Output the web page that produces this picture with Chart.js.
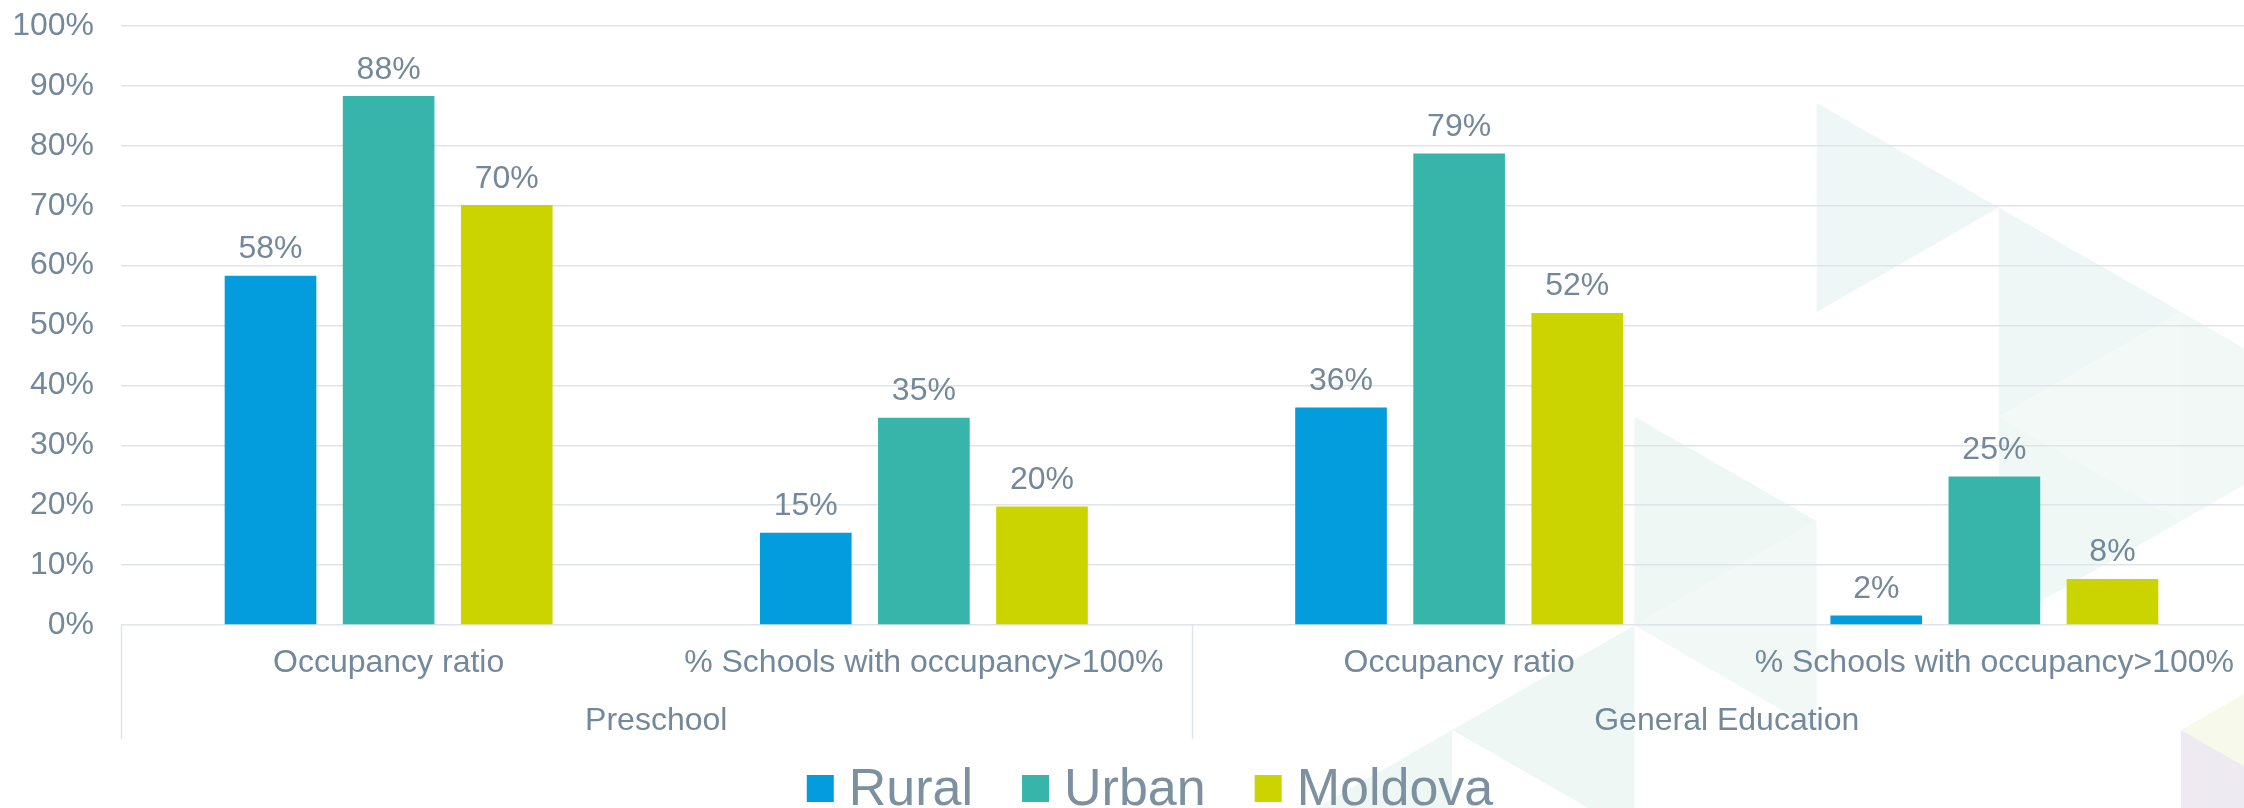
<!DOCTYPE html>
<html>
<head>
<meta charset="utf-8">
<script src="https://cdn.jsdelivr.net/npm/chart.js@4.4.1/dist/chart.umd.min.js"></script>
<style>
html,body{margin:0;padding:0;background:#ffffff;overflow:hidden;width:2244px;height:808px;}
#wrap{position:relative;width:2300px;height:808px;}
canvas{display:block;}
</style>
</head>
<body>
<div id="wrap"><canvas id="c" width="2300" height="808"></canvas></div>
<script>
// ---- data ----
const categories = ['Occupancy ratio', '% Schools with occupancy>100%', 'Occupancy ratio', '% Schools with occupancy>100%'];
const groupLabels = ['Preschool', 'General Education'];
const seriesNames = ['Rural', 'Urban', 'Moldova'];
const rural = [58.3, 15.4, 36.3, 1.6];
const urban = [88.3, 34.6, 78.7, 24.8];
const moldova = [70.1, 19.8, 52.1, 7.7];
const yTickValues = [0, 10, 20, 30, 40, 50, 60, 70, 80, 90, 100];

// ---- styles ----
const colors = ['#039CDC', '#38B5AA', '#CCD400'];
const textColor = '#73889A';
const gridColor = '#DFE4E8';
const FONT = '"Liberation Sans", Arial, Helvetica, sans-serif';

// decorative triangle mosaic in the background (not data)
const decoTriangles = [
  ['R', 0, 0, '#EEF7F5'],
  ['R', 1, 0, '#EEF7F5'],
  ['L', 1, 0, '#F3F9F7'],
  ['R', 1, 1, '#F0F8F6'],
  ['R', -1, 2, '#EFF7F5'],
  ['L', -1, 2, '#F1F8F6'],
  ['L', -2, 3, '#EFF7F5'],
  ['L', -3, 4, '#EFF7F5'],
  ['R', 2, 0, '#F1F8F6'],
  ['L', 2, 1, '#F7F9EA'],
  ['R', 2, 2, '#EEEAF2']
];

const backgroundPlugin = {
  id: 'deco',
  beforeDraw(chart) {
    const ctx = chart.ctx;
    const colX = k => 1816.6 + 182.2 * k;
    const edgeY = (k, m) => 103 + 104.5 * k + 209 * m;
    ctx.save();
    ctx.fillStyle = '#ffffff';
    ctx.fillRect(0, 0, chart.width, chart.height);
    decoTriangles.forEach(([dir, k, m, col]) => {
      let pts;
      if (dir === 'R') {
        const y0 = edgeY(k, m);
        pts = [[colX(k), y0], [colX(k), y0 + 209], [colX(k + 1), y0 + 104.5]];
      } else {
        const y0 = edgeY(k + 1, m);
        pts = [[colX(k + 1), y0], [colX(k + 1), y0 + 209], [colX(k), y0 + 104.5]];
      }
      ctx.fillStyle = col;
      ctx.beginPath();
      ctx.moveTo(pts[0][0], pts[0][1]);
      ctx.lineTo(pts[1][0], pts[1][1]);
      ctx.lineTo(pts[2][0], pts[2][1]);
      ctx.closePath();
      ctx.fill();
    });
    ctx.restore();
  }
};

const dataLabelPlugin = {
  id: 'dataLabels',
  afterDatasetsDraw(chart) {
    const ctx = chart.ctx;
    ctx.save();
    ctx.font = '32px ' + FONT;
    ctx.fillStyle = textColor;
    ctx.textAlign = 'center';
    ctx.textBaseline = 'alphabetic';
    chart.data.datasets.forEach((ds, di) => {
      const meta = chart.getDatasetMeta(di);
      meta.data.forEach((el, i) => {
        ctx.fillText(Math.round(ds.data[i]) + '%', el.x, el.y - 17.5);
      });
    });
    ctx.restore();
  }
};

const separatorPlugin = {
  id: 'separators',
  afterDraw(chart) {
    const gs = chart.scales.x2;
    const ctx = chart.ctx;
    const n = groupLabels.length;
    const step = (gs.right - gs.left) / n;
    ctx.save();
    ctx.strokeStyle = gridColor;
    ctx.lineWidth = 1.5;
    for (let i = 0; i <= n; i++) {
      const x = Math.round(gs.left + step * i) + 0.5;
      ctx.beginPath();
      ctx.moveTo(x, chart.chartArea.bottom);
      ctx.lineTo(x, gs.bottom);
      ctx.stroke();
    }
    ctx.restore();
  }
};

const legendPlugin = {
  id: 'customLegend',
  afterDraw(chart) {
    const ctx = chart.ctx;
    ctx.save();
    ctx.font = '52px ' + FONT;
    const box = 27, gapText = 15, gapItem = 49;
    const widths = seriesNames.map(s => ctx.measureText(s).width);
    let total = 0;
    widths.forEach((w, i) => { total += box + gapText + w + (i < widths.length - 1 ? gapItem : 0); });
    let x = chart.width / 2 - total / 2;
    const baseY = 805;
    const boxTop = 775;
    ctx.textBaseline = 'alphabetic';
    ctx.textAlign = 'left';
    chart.data.datasets.forEach((ds, i) => {
      ctx.fillStyle = ds.backgroundColor;
      ctx.fillRect(x, boxTop, box, box);
      ctx.fillStyle = '#7C909F';
      ctx.fillText(ds.label, x + box + gapText, baseY);
      x += box + gapText + widths[i] + gapItem;
    });
    ctx.restore();
  }
};

new Chart(document.getElementById('c'), {
  type: 'bar',
  data: {
    labels: categories,
    datasets: [
      { label: seriesNames[0], data: rural, backgroundColor: colors[0] },
      { label: seriesNames[1], data: urban, backgroundColor: colors[1] },
      { label: seriesNames[2], data: moldova, backgroundColor: colors[2] }
    ]
  },
  options: {
    responsive: false,
    animation: false,
    devicePixelRatio: 1,
    layout: { padding: { top: 26, right: 38, bottom: 69, left: 0 } },
    datasets: { bar: { categoryPercentage: 0.662, barPercentage: 0.776 } },
    plugins: {
      legend: { display: false },
      tooltip: { enabled: false }
    },
    scales: {
      y: {
        min: 0, max: 100,
        afterBuildTicks(s) { s.ticks = yTickValues.map(v => ({ value: v })); },
        afterFit(s) { s.width = 121; s.paddingTop = 0; s.paddingBottom = 0; },
        ticks: {
          callback: v => v + '%',
          font: { family: FONT, size: 32 },
          color: textColor,
          padding: 27
        },
        grid: { color: gridColor, lineWidth: 1.5, drawTicks: false },
        border: { display: false }
      },
      x: {
        weight: 0,
        afterFit(s) { s.height = 58; },
        ticks: {
          font: { family: FONT, size: 32 },
          color: textColor,
          padding: 19,
          maxRotation: 0,
          autoSkip: false
        },
        grid: { display: false, drawTicks: false },
        border: { display: false }
      },
      x2: {
        type: 'category',
        position: 'bottom',
        labels: groupLabels,
        offset: true,
        weight: 1,
        afterFit(s) { s.height = 56; },
        ticks: {
          font: { family: FONT, size: 32 },
          color: textColor,
          padding: 19,
          maxRotation: 0,
          autoSkip: false
        },
        grid: { display: false, drawTicks: false },
        border: { display: false }
      }
    }
  },
  plugins: [backgroundPlugin, dataLabelPlugin, separatorPlugin, legendPlugin]
});
</script>
</body>
</html>
